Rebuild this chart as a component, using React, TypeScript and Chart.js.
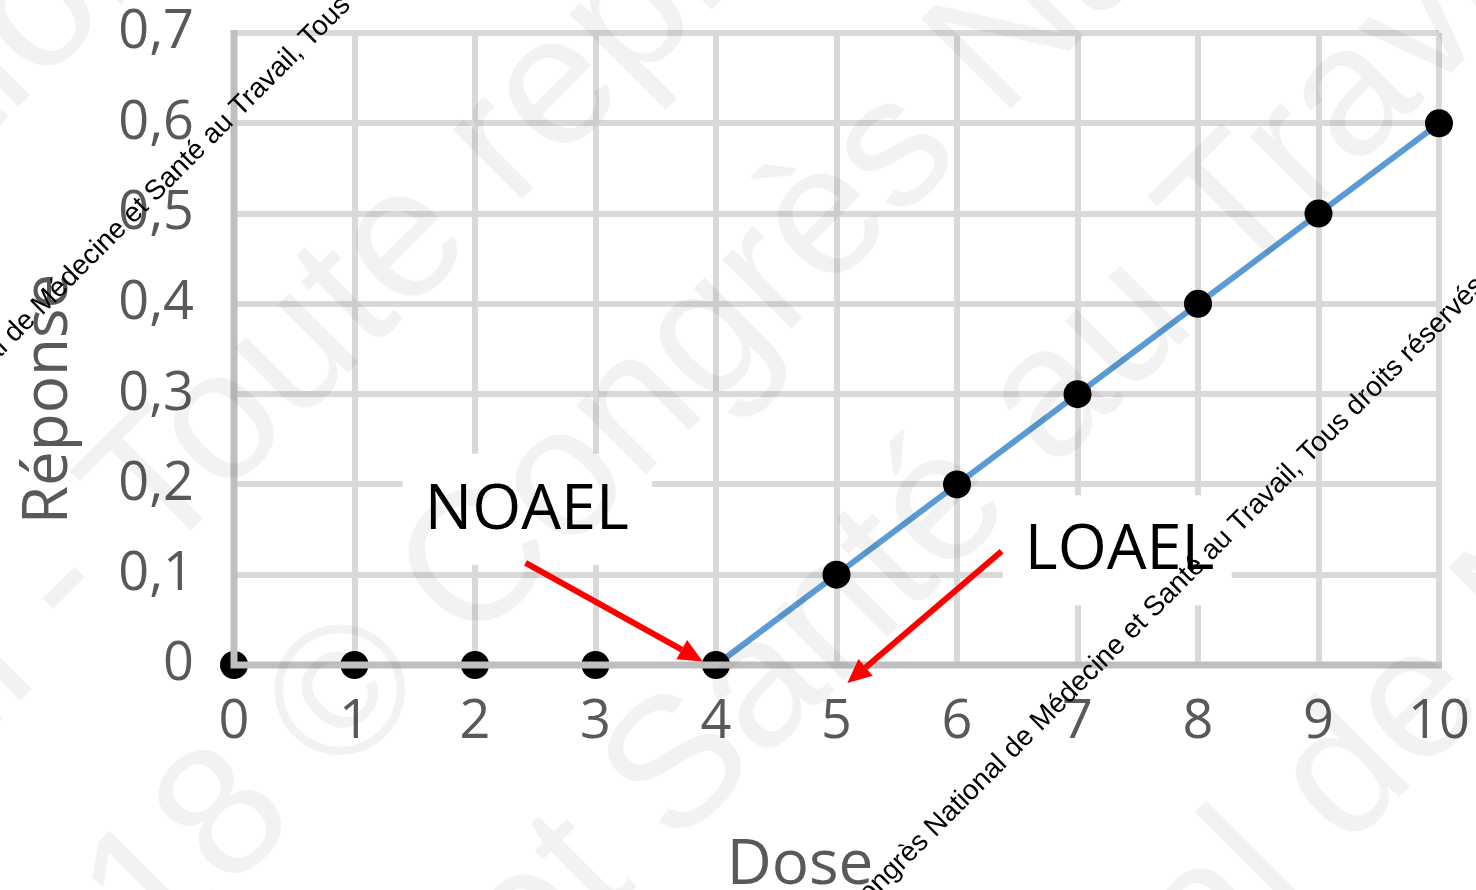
import React, { useEffect, useRef } from 'react';
import { Chart, registerables } from 'chart.js';

Chart.register(...registerables);

// ---- data ----
const doses = [0, 1, 2, 3, 4, 5, 6, 7, 8, 9, 10];
const responses = [0, 0, 0, 0, 0, 0.1, 0.2, 0.3, 0.4, 0.5, 0.6];
const xTickLabels = ['0', '1', '2', '3', '4', '5', '6', '7', '8', '9', '10'];
const yTickLabels = ['0', '0,1', '0,2', '0,3', '0,4', '0,5', '0,6', '0,7'];
const xTitle = 'Dose';
const yTitle = 'Réponse';

// annotations (data units)
const annotationTexts = ['NOAEL', 'LOAEL'];
const annotationAnchors = [
  [2.43, 0.171],
  [7.35, 0.126],
];
const annotationBoxes = [
  [1.4, 0.234, 3.47, 0.111],
  [6.38, 0.188, 8.28, 0.066],
];
const arrowStarts = [
  [2.42, 0.113],
  [6.37, 0.126],
];
const arrowEnds = [
  [3.89, 0.004],
  [5.09, -0.02],
];

// watermark texts
const smallWatermark = 'Congrès National de Médecine et Santé au Travail, Tous droits réservés';
const bigWatermarkLines = [
  'Congrès National',
  'Santé au Travail - Toute reproduction interdite',
  'Travail 2018 © Congrès National de Médecine',
  'Médecine et Santé au Travail',
  'Congrès National de Médecine',
];
const bigWatermarkPrefixes = ['Congrès Nati', 'Santé au Travail - T', 'Travail 2018 ', 'Médecine et Santé ', 'Congrès National d'];
const bigWatermarkChars = ['o', 'o', '©', 'a', 'e'];

const D = Math.SQRT1_2;

function drawArrow(ctx: CanvasRenderingContext2D, x1: number, y1: number, x2: number, y2: number) {
  const ang = Math.atan2(y2 - y1, x2 - x1);
  const headLen = 24;
  const headW = 11;
  const bx = x2 - headLen * Math.cos(ang);
  const by = y2 - headLen * Math.sin(ang);
  ctx.save();
  ctx.strokeStyle = '#ff0000';
  ctx.fillStyle = '#ff0000';
  ctx.lineWidth = 6;
  ctx.lineCap = 'butt';
  ctx.beginPath();
  ctx.moveTo(x1, y1);
  ctx.lineTo(bx, by);
  ctx.stroke();
  ctx.beginPath();
  ctx.moveTo(x2, y2);
  ctx.lineTo(bx + headW * Math.sin(ang), by - headW * Math.cos(ang));
  ctx.lineTo(bx - headW * Math.sin(ang), by + headW * Math.cos(ang));
  ctx.closePath();
  ctx.fill();
  ctx.restore();
}

function diagText(ctx: CanvasRenderingContext2D, text: string, along: number, bx: number, by: number) {
  const ox = bx - along * D;
  const oy = by + along * D;
  ctx.save();
  ctx.translate(ox, oy);
  ctx.rotate(-Math.PI / 4);
  ctx.textAlign = 'left';
  ctx.textBaseline = 'alphabetic';
  ctx.fillText(text, 0, 0);
  ctx.restore();
}

const zeroPadding = (s: any) => {
  s.paddingTop = 0;
  s.paddingBottom = 0;
  s.paddingLeft = 0;
  s.paddingRight = 0;
};

const overlayPlugin = {
  id: 'overlay',
  beforeDatasetsDraw(chart: any) {
    const ctx: CanvasRenderingContext2D = chart.ctx;
    const xs = chart.scales.x;
    const ys = chart.scales.y;
    ctx.save();
    ctx.fillStyle = '#ffffff';
    annotationBoxes.forEach((b) => {
      const x1 = xs.getPixelForValue(b[0]);
      const y1 = ys.getPixelForValue(b[1]);
      const x2 = xs.getPixelForValue(b[2]);
      const y2 = ys.getPixelForValue(b[3]);
      ctx.fillRect(x1, y1, x2 - x1, y2 - y1);
    });
    ctx.restore();
  },
  afterDatasetsDraw(chart: any) {
    const ctx: CanvasRenderingContext2D = chart.ctx;
    const xs = chart.scales.x;
    const ys = chart.scales.y;
    const { left, right, top, bottom } = chart.chartArea;

    // axis lines drawn over the markers
    ctx.save();
    ctx.strokeStyle = '#bfbfbf';
    ctx.lineWidth = 7;
    ctx.beginPath();
    ctx.moveTo(left, top - 3);
    ctx.lineTo(left, bottom + 3.5);
    ctx.moveTo(left - 3.5, bottom);
    ctx.lineTo(right + 3, bottom);
    ctx.stroke();
    ctx.restore();

    // annotation labels
    ctx.save();
    ctx.fillStyle = '#000000';
    ctx.font = '63px "Open Sans"';
    ctx.textAlign = 'center';
    ctx.textBaseline = 'middle';
    annotationTexts.forEach((t, i) => {
      const a = annotationAnchors[i];
      ctx.fillText(t, xs.getPixelForValue(a[0]), ys.getPixelForValue(a[1]));
    });
    ctx.restore();

    arrowStarts.forEach((s, i) => {
      const e = arrowEnds[i];
      drawArrow(
        ctx,
        xs.getPixelForValue(s[0]),
        ys.getPixelForValue(s[1]),
        xs.getPixelForValue(e[0]),
        ys.getPixelForValue(e[1])
      );
    });

    // axis titles
    ctx.save();
    ctx.fillStyle = '#595959';
    ctx.font = '62px "Open Sans"';
    ctx.textAlign = 'center';
    ctx.textBaseline = 'alphabetic';
    ctx.fillText(xTitle, 800, 884);
    ctx.translate(67, 399);
    ctx.rotate(-Math.PI / 2);
    ctx.fillText(yTitle, 0, 0);
    ctx.restore();

    // big faint watermark
    ctx.save();
    ctx.fillStyle = 'rgba(0,0,0,0.05)';
    ctx.font = '185px "Liberation Sans"';
    const bases = [
      [75, 50],
      [273, 448],
      [385, 735],
      [1089, 435],
      [1455, 741],
    ];
    bigWatermarkLines.forEach((t, i) => {
      const along = ctx.measureText(bigWatermarkPrefixes[i]).width + ctx.measureText(bigWatermarkChars[i]).width / 2;
      diagText(ctx, t, along, bases[i][0], bases[i][1]);
    });
    ctx.restore();

    // small black watermark
    ctx.save();
    ctx.fillStyle = '#000000';
    ctx.font = '28px "Liberation Sans"';
    const pre = ctx.measureText('Congrès National de ').width;
    diagText(ctx, smallWatermark, pre, 42, 316);
    diagText(ctx, smallWatermark, pre, 1041, 732);
    ctx.restore();
  },
};

export default function App() {
  const ref = useRef<HTMLCanvasElement>(null);
  useEffect(() => {
    document.body.style.margin = '0';
    const chart = new Chart(ref.current as HTMLCanvasElement, {
      type: 'line',
      data: {
        datasets: [
          {
            label: yTitle,
            data: doses.map((d, i) => ({ x: d, y: responses[i] })),
            borderColor: '#5b9bd5',
            borderWidth: 6,
            pointRadius: 14,
            pointHoverRadius: 14,
            pointBackgroundColor: '#000000',
            pointBorderWidth: 0,
            pointBorderColor: '#000000',
            clip: false as any,
            segment: {
              borderColor: (c: any) =>
                c.p0.parsed.y === 0 && c.p1.parsed.y === 0 ? 'rgba(0,0,0,0)' : '#5b9bd5',
            },
          },
        ],
      },
      options: {
        responsive: false,
        animation: false,
        devicePixelRatio: 1,
        layout: { padding: { left: 0, right: 37, top: 33, bottom: 0 } },
        plugins: {
          legend: { display: false },
          tooltip: { enabled: false },
          title: { display: false },
        },
        scales: {
          x: {
            type: 'linear',
            min: 0,
            max: 10,
            afterFit: (s: any) => {
              s.height = 225;
              zeroPadding(s);
            },
            ticks: {
              stepSize: 1,
              padding: 25,
              color: '#595959',
              font: { family: '"Open Sans"', size: 54 },
              callback: (_v: any, i: number) => xTickLabels[i],
            },
            grid: { color: '#d9d9d9', lineWidth: 6, drawTicks: false },
            border: { display: false },
          },
          y: {
            type: 'linear',
            min: 0,
            max: 0.7,
            afterFit: (s: any) => {
              s.width = 234;
              zeroPadding(s);
            },
            ticks: {
              stepSize: 0.1,
              padding: 40,
              color: '#595959',
              font: { family: '"Open Sans"', size: 54 },
              callback: (_v: any, i: number) => yTickLabels[i],
            },
            grid: { color: '#d9d9d9', lineWidth: 6, drawTicks: false },
            border: { display: false },
          },
        },
      },
      plugins: [overlayPlugin],
    });
    return () => chart.destroy();
  }, []);
  return (
    <div style={{ position: 'absolute', left: 0, top: 0, width: 1476, height: 890, overflow: 'hidden', background: '#ffffff' }}>
      <canvas ref={ref} width={1476} height={890} style={{ display: 'block' }} />
    </div>
  );
}
